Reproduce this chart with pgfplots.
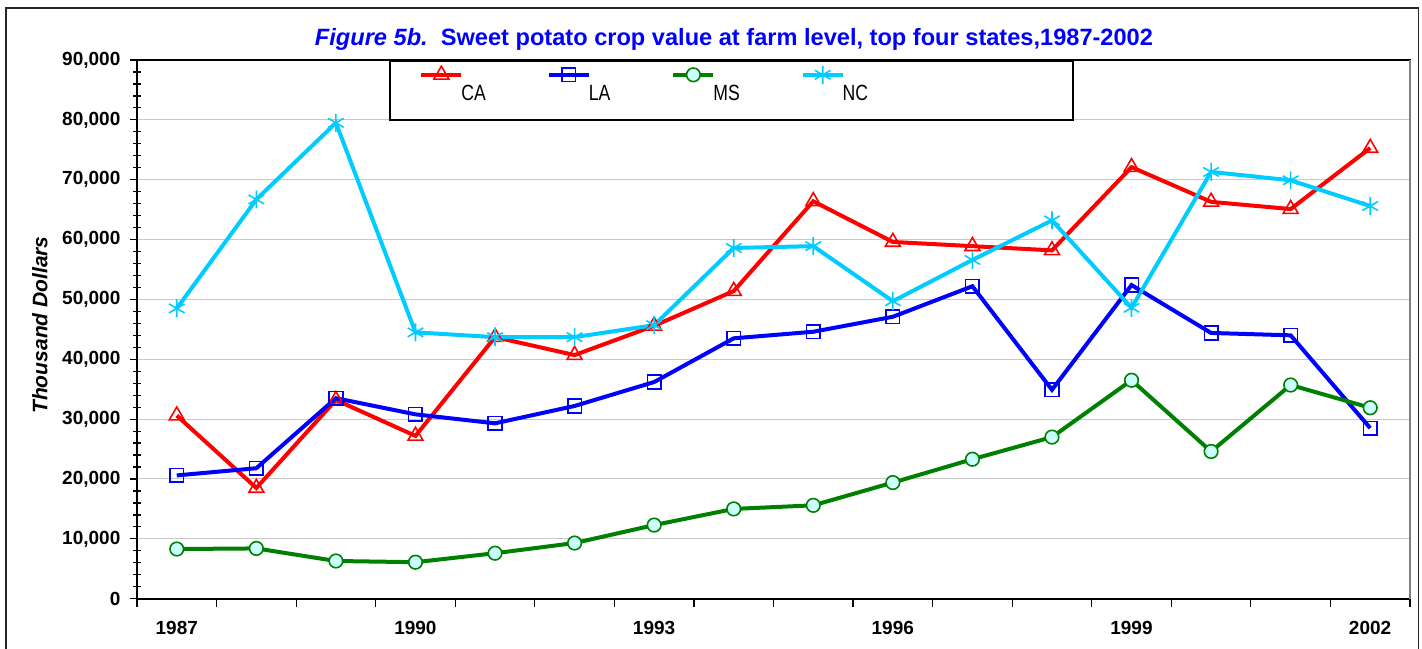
\documentclass[border=0pt]{standalone}
\usepackage{fontspec}
\setmainfont{Liberation Sans}
\newfontfamily\legfont[FakeStretch=0.8]{Liberation Sans}
\usepackage{pgfplots}
\pgfplotsset{compat=1.18}
\definecolor{caRed}{RGB}{255,0,0}
\definecolor{laBlue}{RGB}{0,0,255}
\definecolor{msGreen}{RGB}{0,128,0}
\definecolor{msFill}{RGB}{204,255,255}
\definecolor{ncCyan}{RGB}{0,204,255}
\definecolor{gridgray}{RGB}{200,200,200}
\definecolor{titleblue}{RGB}{0,0,255}
\begin{document}
\begin{tikzpicture}
\useasboundingbox (-68.5pt,-24.65pt) rectangle (642.5pt,299.35pt);
\clip (-68.5pt,-24.65pt) rectangle (642.5pt,299.35pt);
\begin{axis}[
  scale only axis, width=636.5pt, height=269.35pt,
  at={(0,0)}, anchor=south west,
  xmin=1986.5, xmax=2002.5, ymin=0, ymax=90000,
  xtick={1987,...,2002},
  xticklabels={1987,,,1990,,,1993,,,1996,,,1999,,,2002},
  minor xtick={1986.5,1987.5,...,2002.5},
  ytick={0,10000,...,90000},
  minor y tick num=4,
  tick align=outside,
  major tick length=3.3pt, minor tick length=4pt,
  major x tick style={draw=none},
  minor y tick style={xshift=2pt},
  tick style={black, line width=0.6pt},
  xtick pos=bottom, ytick pos=left,
  ymajorgrids, grid style={gridgray, line width=0.5pt},
  axis line style={black, line width=0.8pt},
  scaled y ticks=false,
  /pgf/number format/1000 sep={,},
  /pgf/number format/assume math mode=true,
  tick label style={font=\bfseries\fontsize{9.5}{10}\selectfont},
  yticklabel style={xshift=-1.5pt},
  xticklabel style={yshift=-4.5pt},
  every axis plot/.append style={line width=2pt},
  legend columns=4,
  legend style={draw=none, fill=none, at={(0.2215,0.9900)}, anchor=north west, inner sep=0pt,
    font=\legfont\fontsize{11}{12}\selectfont,
    /tikz/every even column/.append style={column sep=28.5pt},
    cells={anchor=west, inner xsep=1pt}},
  legend image code/.code={\draw[mark repeat=2,mark phase=2,#1] plot coordinates {(0pt,10pt) (10pt,10pt) (20pt,10pt)};},
]
\addplot[color=caRed, mark=triangle, mark size=4.3pt, mark options={solid, line width=0.8pt}] coordinates {
(1987,30600) (1988,18500) (1989,33200) (1990,27200) (1991,43700) (1992,40700) (1993,45600) (1994,51400)
(1995,66400) (1996,59600) (1997,58900) (1998,58200) (1999,72100) (2000,66300) (2001,65100) (2002,75300)};
\addlegendentry{\kern-3pt CA}
\addplot[color=laBlue, mark=square, mark size=3.4pt, mark options={solid, line width=0.8pt}] coordinates {
(1987,20600) (1988,21800) (1989,33500) (1990,30800) (1991,29300) (1992,32200) (1993,36200) (1994,43500)
(1995,44600) (1996,47100) (1997,52200) (1998,34900) (1999,52400) (2000,44400) (2001,44000) (2002,28500)};
\addlegendentry{\kern-3pt LA}
\addplot[color=msGreen, mark=*, mark size=3.4pt, mark options={solid, fill=msFill, draw=msGreen, line width=0.8pt}] coordinates {
(1987,8300) (1988,8400) (1989,6300) (1990,6100) (1991,7600) (1992,9300) (1993,12300) (1994,15000)
(1995,15600) (1996,19400) (1997,23300) (1998,27000) (1999,36500) (2000,24600) (2001,35700) (2002,31900)};
\addlegendentry{\kern-3pt MS}
\addplot[color=ncCyan, mark=asterisk, mark size=4.5pt, mark options={solid, line width=0.8pt}] coordinates {
(1987,48500) (1988,66700) (1989,79500) (1990,44500) (1991,43700) (1992,43700) (1993,45700) (1994,58600)
(1995,58900) (1996,49700) (1997,56600) (1998,63200) (1999,48600) (2000,71300) (2001,69900) (2002,65600)};
\addlegendentry{\kern-3pt NC}
\end{axis}
\draw[gray, line width=0.8pt] (636.5pt,0pt) -- (636.5pt,269.35pt);
\draw[black, line width=0.6pt] (126.5pt,239.35pt) rectangle (468pt,268.85pt);
\draw[black!85, line width=0.8pt] (-65.5pt,295.35pt) rectangle (640.75pt,-40pt);
\node[font=\bfseries\fontsize{11.8}{13}\selectfont, text=titleblue] at (298.5pt,279.85pt)
  {\textit{Figure 5b.}\ \ Sweet potato crop value at farm level, top four states,1987-2002};
\node[rotate=90, font=\bfseries\itshape\fontsize{10.5}{12}\selectfont] at (-48.5pt,136.85pt) {Thousand Dollars};
\end{tikzpicture}
\end{document}
